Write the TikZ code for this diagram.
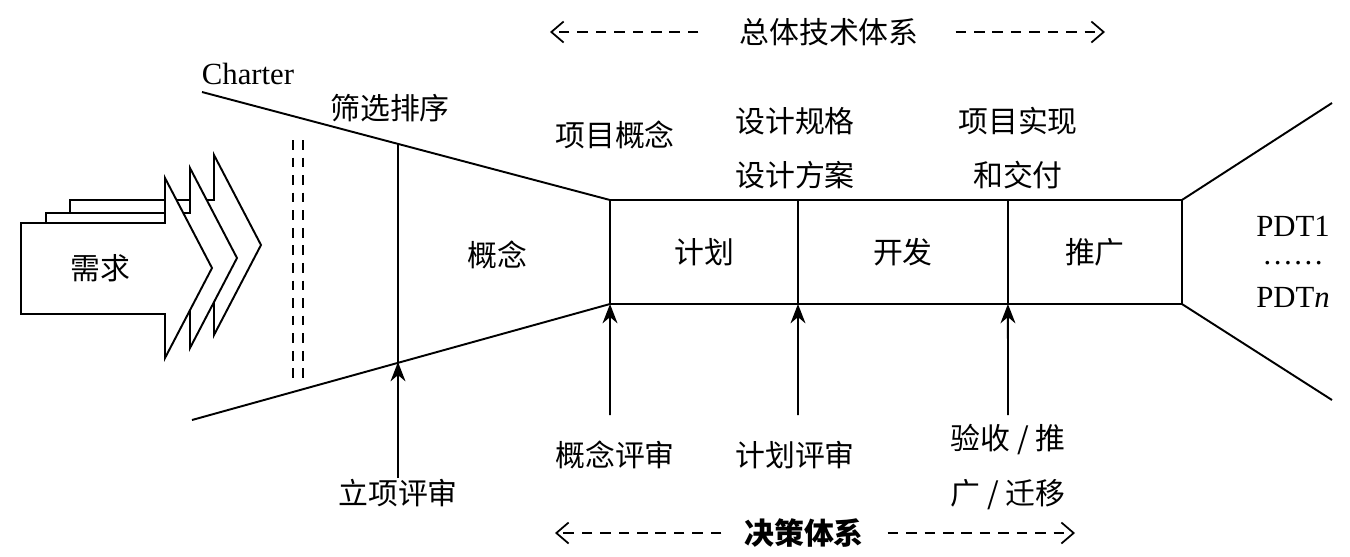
\documentclass[tikz,border=0pt]{standalone}
\usepackage{fontspec}
\setmainfont{Liberation Serif}
\newfontfamily\cjk{Noto Sans CJK SC}
\usetikzlibrary{arrows.meta}

\begin{document}
\begin{tikzpicture}[x=0.02cm,y=-0.02cm,line width=1.1pt,>={Stealth[length=11pt,width=8.5pt]},
  txt/.style={font=\cjk\fontsize{17}{20}\selectfont,inner sep=0pt},
  lat/.style={font=\fontsize{17.5}{20}\selectfont,inner sep=0pt},
  cell/.style={draw,txt,outer sep=0pt,minimum height=2.08cm},
  sysline/.style={line width=1pt,dash pattern=on 6pt off 4.5pt,-{Straight Barb[length=7pt,width=12pt,line width=1pt]}}]
  \useasboundingbox (0,0) rectangle (1350,556);
  % demand arrows (back to front)
  \foreach \dx/\dy in {49/-23,25/-10,0/0}
    \filldraw[fill=white,shift={(\dx,\dy)}] (21,223) -- (165,223) -- (165,178) -- (212,268)
      -- (165,358) -- (165,314) -- (21,314) -- cycle;
  \node[txt] (req) at (100,268) {需求};
  % screening gate
  \draw[line width=0.8pt,dash pattern=on 5.5pt off 4.5pt] (293,140) -- (293,380);
  \draw[line width=0.8pt,dash pattern=on 5.5pt off 4.5pt] (303,140) -- (303,380);
  % phase cells
  \node[cell,minimum width=3.76cm] (plan) at (704,252) {计划};
  \node[cell,minimum width=4.2cm,anchor=west] (dev) at (plan.east) {开发};
  \node[cell,minimum width=3.48cm,anchor=west] (push) at (dev.east) {推广};
  % funnel
  \coordinate (ch) at (202,92);
  \coordinate (bl) at (192,420);
  \coordinate (tr) at (1332,103);
  \coordinate (br) at (1332,400);
  \coordinate (gt) at (398,144);
  \coordinate (gb) at (398,362);
  \draw (ch) -- (plan.north west);
  \draw (bl) -- (plan.south west);
  \draw (push.north east) -- (tr);
  \draw (push.south east) -- (br);
  \draw (gt) -- (gb);
  \node[txt] (concept) at (497,255) {概念};
  % labels on top
  \node[lat] (charter) at (248,74) {Charter};
  \node[txt] (screen) at (390,108) {筛选排序};
  \node[txt] (pconc) at (615,135) {项目概念};
  \node[txt,align=center] (spec) at (795,148) {设计规格\\[11pt]设计方案};
  \node[txt,align=center] (impl) at (1018,148) {项目实现\\[11pt]和交付};
  % products
  \node[lat] (pdt1) at (1293,226) {PDT1};
  \node[lat] (dots) at (1293,263) {……};
  \node[lat] (pdtn) at (1293,297) {PDT\textit{n}};
  % reviews
  \coordinate (r1) at (398,478);
  \coordinate (r2) at (610,415);
  \coordinate (r3) at (798,415);
  \coordinate (r4) at (1008,415);
  \draw[->] (r1) -- (gb);
  \draw[->] (r2) -- (plan.south west);
  \draw[->] (r3) -- (plan.south east);
  \draw[->] (r4) -- (dev.south east);
  \node[txt] (rev1) at (398,493) {立项评审};
  \node[txt] (rev2) at (615,455) {概念评审};
  \node[txt] (rev3) at (795,455) {计划评审};
  \node[txt,align=center] (rev4) at (1008,467) {验收 / 推\\[11pt]广 / 迁移};
  % systems
  \node[txt] (tech) at (829,32) {总体技术体系};
  \coordinate (tl) at (550,32);
  \coordinate (tr2) at (1105,32);
  \draw[sysline] ([xshift=-0.8cm]tech.west) -- (tl);
  \draw[sysline] ([xshift=0.72cm]tech.east) -- (tr2);
  \node[txt,font=\cjk\bfseries\fontsize{17}{20}\selectfont] (dec) at (804,533) {决策体系};
  \coordinate (dl) at (555,533);
  \coordinate (dr) at (1075,533);
  \draw[sysline] ([xshift=-0.44cm]dec.west) -- (dl);
  \draw[sysline] ([xshift=0.46cm]dec.east) -- (dr);
\end{tikzpicture}
\end{document}
